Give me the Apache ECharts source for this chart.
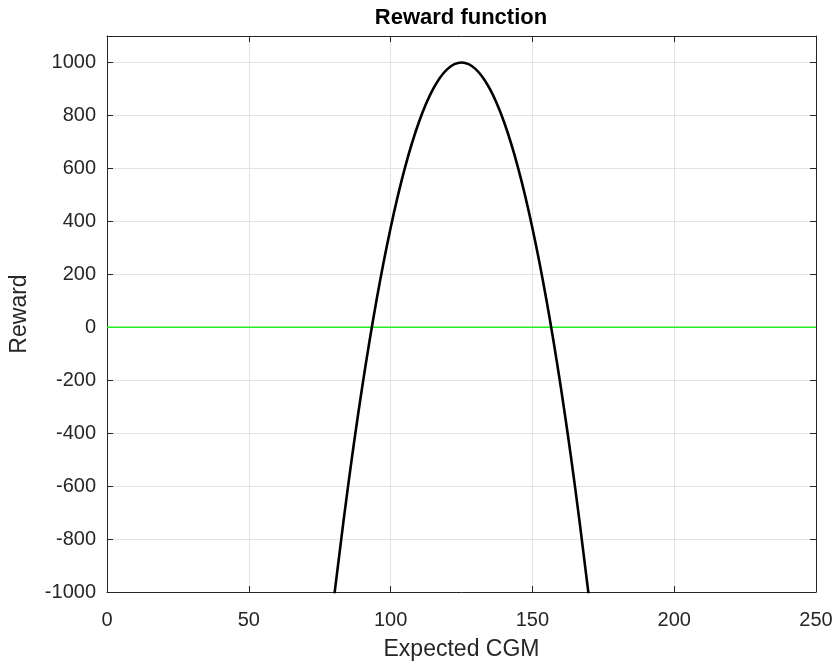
<!DOCTYPE html>
<html>
<head>
<meta charset="utf-8">
<script src="https://cdn.jsdelivr.net/npm/echarts@6/dist/echarts.min.js"></script>
<style>
  html, body { margin: 0; padding: 0; background: #fff; }
  #chart { width: 838px; height: 666px; }
</style>
</head>
<body>
<div id="chart"></div>
<script>
// Expected CGM samples and the reward at each
const cgmValues = [80, 85, 90, 95, 100, 105, 110, 115, 120, 125, 130, 135, 140, 145, 150, 155, 160, 165, 170];
const rewardValues = [-1025, -600, -225, 100, 375, 600, 775, 900, 975, 1000, 975, 900, 775, 600, 375, 100, -225, -600, -1025];

// Zero reference line endpoints
const zeroLineX = [0, 250];
const zeroLineY = [0, 0];

const xTicks = [0, 50, 100, 150, 200, 250];
const yTicks = [-1000, -800, -600, -400, -200, 0, 200, 400, 600, 800, 1000];

const FONT = 'Liberation Sans, Arial, Helvetica, sans-serif';
const TXT = '#262626';

const chart = echarts.init(document.getElementById('chart'), null, { renderer: 'canvas' });

const baseAxisLine = { show: true, onZero: false, lineStyle: { color: TXT, width: 1 } };
const baseTick = { show: true, inside: true, length: 6, lineStyle: { color: TXT, width: 1 } };
const splitLine = { show: true, lineStyle: { color: '#e4e4e4', width: 1 } };

chart.setOption({
  animation: false,
  title: {
    text: 'Reward function',
    left: 461,
    textAlign: 'center',
    top: 7,
    padding: 0,
    textStyle: { fontFamily: FONT, fontSize: 22, fontWeight: 'bold', color: '#000' }
  },
  grid: { left: 106, right: 22, top: 36, bottom: 71, containLabel: false },
  xAxis: [
    {
      type: 'value', min: 0, max: 250, interval: 50, position: 'bottom',
      name: 'Expected CGM', nameLocation: 'middle', nameGap: 46,
      nameTextStyle: { fontFamily: FONT, fontSize: 23, color: TXT },
      axisLine: baseAxisLine, axisTick: baseTick, splitLine: splitLine,
      axisLabel: { fontFamily: FONT, fontSize: 20, color: TXT, margin: 18,
        formatter: v => xTicks.includes(v) ? String(v) : '' }
    },
    {
      type: 'value', min: 0, max: 250, interval: 50, position: 'top',
      axisLine: baseAxisLine, axisTick: baseTick, splitLine: { show: false },
      axisLabel: { show: false }
    }
  ],
  yAxis: [
    {
      type: 'value', min: -1000, max: 1100, interval: 200, position: 'left',
      name: 'Reward', nameLocation: 'middle', nameGap: 76, nameRotate: 90,
      nameTextStyle: { fontFamily: FONT, fontSize: 23, color: TXT },
      axisLine: baseAxisLine, axisTick: baseTick, splitLine: splitLine,
      axisLabel: { fontFamily: FONT, fontSize: 20, color: TXT, margin: 11, showMaxLabel: false,
        formatter: v => yTicks.includes(v) ? String(v) : '' }
    },
    {
      type: 'value', min: -1000, max: 1100, interval: 200, position: 'right',
      axisLine: baseAxisLine, axisTick: baseTick, splitLine: { show: false },
      axisLabel: { show: false }
    }
  ],
  series: [
    {
      name: 'zero', type: 'line', xAxisIndex: 0, yAxisIndex: 0,
      data: zeroLineX.map((x, i) => [x, zeroLineY[i]]),
      showSymbol: false, symbol: 'none',
      lineStyle: { color: '#22ee22', width: 1.5 },
      silent: true, z: 2
    },
    {
      name: 'reward', type: 'line', xAxisIndex: 0, yAxisIndex: 0,
      data: cgmValues.map((x, i) => [x, rewardValues[i]]),
      smooth: 0.4, showSymbol: false, symbol: 'none', clip: true,
      lineStyle: { color: '#000', width: 2.6 },
      silent: true, z: 3
    }
  ]
});
</script>
</body>
</html>
